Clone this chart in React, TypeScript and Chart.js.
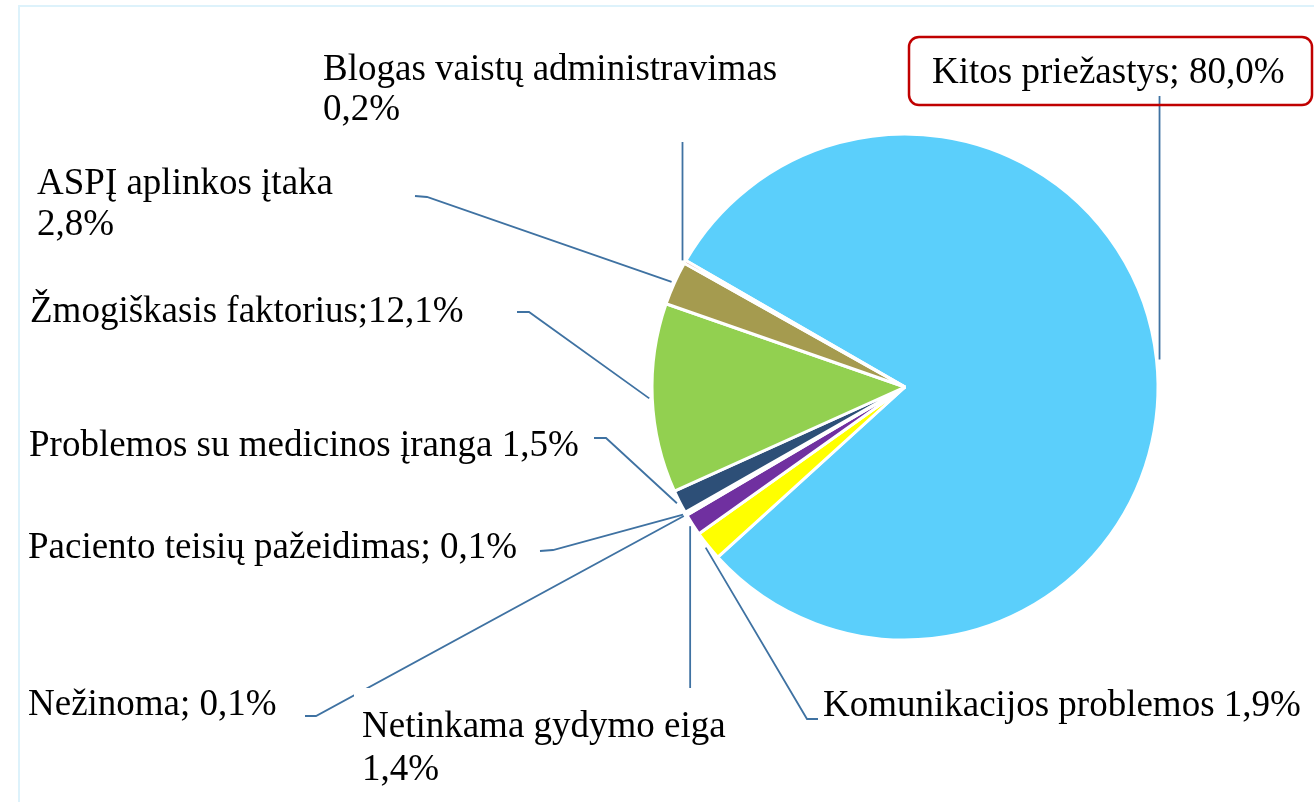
import React, { useEffect, useRef } from "react";
import { Chart, registerables } from "chart.js";

Chart.register(...registerables);

// ---- Data ----
const categories = [
  "Kitos priežastys",
  "Komunikacijos problemos",
  "Netinkama gydymo eiga",
  "Nežinoma",
  "Paciento teisių pažeidimas",
  "Problemos su medicinos įranga",
  "Žmogiškasis faktorius",
  "ASPĮ aplinkos įtaka",
  "Blogas vaistų administravimas",
];
const values = [80.0, 1.9, 1.4, 0.1, 0.1, 1.5, 12.1, 2.8, 0.2];
const labelLines = [
  ["Kitos priežastys; 80,0%"],
  ["Komunikacijos problemos 1,9%"],
  ["Netinkama gydymo eiga", "1,4%"],
  ["Nežinoma; 0,1%"],
  ["Paciento teisių pažeidimas; 0,1%"],
  ["Problemos su medicinos įranga 1,5%"],
  ["Žmogiškasis faktorius;12,1%"],
  ["ASPĮ aplinkos įtaka", "2,8%"],
  ["Blogas vaistų administravimas", "0,2%"],
];
const colors = [
  "#5BCFFB",
  "#FFFF00",
  "#7030A0",
  "#8E8E8E",
  "#B0B0B0",
  "#2D4F77",
  "#92D050",
  "#A59B4F",
  "#C0504D",
];

// ---- Label layout (positions only) ----
type Layout = {
  x: number;
  ys: number[];
  path: (number | null)[][];
  box?: number[];
  bg?: number[];
};
const labelLayout: Layout[] = [
  { x: 932, ys: [83], path: [[null, 96]], box: [909, 37, 403, 68] },
  { x: 823, ys: [716], path: [[818, 719], [807, 719]] },
  { x: 362, ys: [737, 780], path: [[null, 688]], bg: [354, 688, 380, 110] },
  { x: 28, ys: [715], path: [[305, 716], [316, 716]] },
  { x: 28, ys: [558], path: [[540, 551], [553, 550]] },
  { x: 29, ys: [456], path: [[594, 438], [606, 438]] },
  { x: 30, ys: [322], path: [[517, 312], [529, 312]] },
  { x: 37, ys: [194, 235], path: [[415, 196], [427, 197]] },
  { x: 323, ys: [80, 120], path: [[null, 142]] },
];

const FONT = '37px "Liberation Serif", "Times New Roman", serif';
const LINE_COLOR = "#3F72A2";

const framePlugin = {
  id: "frame",
  beforeDraw(chart: any) {
    const ctx = chart.ctx;
    ctx.save();
    ctx.fillStyle = "#ffffff";
    ctx.fillRect(0, 0, chart.width, chart.height);
    ctx.strokeStyle = "#DDF2FB";
    ctx.lineWidth = 2;
    ctx.beginPath();
    ctx.moveTo(19, chart.height + 5);
    ctx.lineTo(19, 6);
    ctx.lineTo(chart.width + 5, 6);
    ctx.stroke();
    ctx.restore();
  },
};

const labelPlugin = {
  id: "leaderLabels",
  afterDatasetsDraw(chart: any) {
    const ctx = chart.ctx;
    const meta = chart.getDatasetMeta(0);
    ctx.save();
    // leader lines
    meta.data.forEach((arc: any, i: number) => {
      const lay = labelLayout[i];
      if (!lay) return;
      const { x, y, startAngle, endAngle, outerRadius } = arc.getProps(
        ["x", "y", "startAngle", "endAngle", "outerRadius"],
        true
      );
      const mid = (startAngle + endAngle) / 2;
      const r = outerRadius + 3;
      const ex = x + Math.cos(mid) * r;
      const ey = y + Math.sin(mid) * r;
      ctx.strokeStyle = LINE_COLOR;
      ctx.lineWidth = 1.8;
      ctx.beginPath();
      lay.path.forEach((p, k) => {
        const px = p[0] === null ? ex : (p[0] as number);
        const py = p[1] as number;
        if (k === 0) ctx.moveTo(px, py);
        else ctx.lineTo(px, py);
      });
      ctx.lineTo(ex, ey);
      ctx.stroke();
    });
    // labels
    ctx.font = FONT;
    ctx.textBaseline = "alphabetic";
    ctx.textAlign = "left";
    labelLayout.forEach((lay, i) => {
      if (lay.bg) {
        ctx.fillStyle = "#ffffff";
        ctx.fillRect(lay.bg[0], lay.bg[1], lay.bg[2], lay.bg[3]);
      }
      if (lay.box) {
        const [bx, by, bw, bh] = lay.box;
        ctx.strokeStyle = "#C00000";
        ctx.lineWidth = 2.5;
        ctx.beginPath();
        (ctx as any).roundRect(bx, by, bw, bh, 10);
        ctx.stroke();
      }
      ctx.fillStyle = "#000000";
      labelLines[i].forEach((t, k) => {
        ctx.fillText(t, lay.x, lay.ys[k]);
      });
    });
    ctx.restore();
  },
};

export default function App() {
  const ref = useRef<HTMLCanvasElement | null>(null);
  useEffect(() => {
    if (!ref.current) return;
    const chart = new Chart(ref.current, {
      type: "pie",
      data: {
        labels: categories,
        datasets: [
          {
            data: values,
            backgroundColor: colors,
            borderColor: "#ffffff",
            borderWidth: 3,
            radius: 253,
          } as any,
        ],
      },
      options: {
        responsive: false,
        animation: false,
        rotation: -60,
        layout: { padding: { left: 653, right: 157, top: 135, bottom: 163 } },
        plugins: {
          legend: { display: false },
          tooltip: { enabled: false },
        },
        events: [],
      } as any,
      plugins: [framePlugin, labelPlugin],
    });
    return () => chart.destroy();
  }, []);
  return (
    <div style={{ position: "fixed", left: 0, top: 0, width: 1314, height: 802, background: "#fff" }}>
      <canvas ref={ref} width={1314} height={802} style={{ width: 1314, height: 802, display: "block" }} />
    </div>
  );
}
